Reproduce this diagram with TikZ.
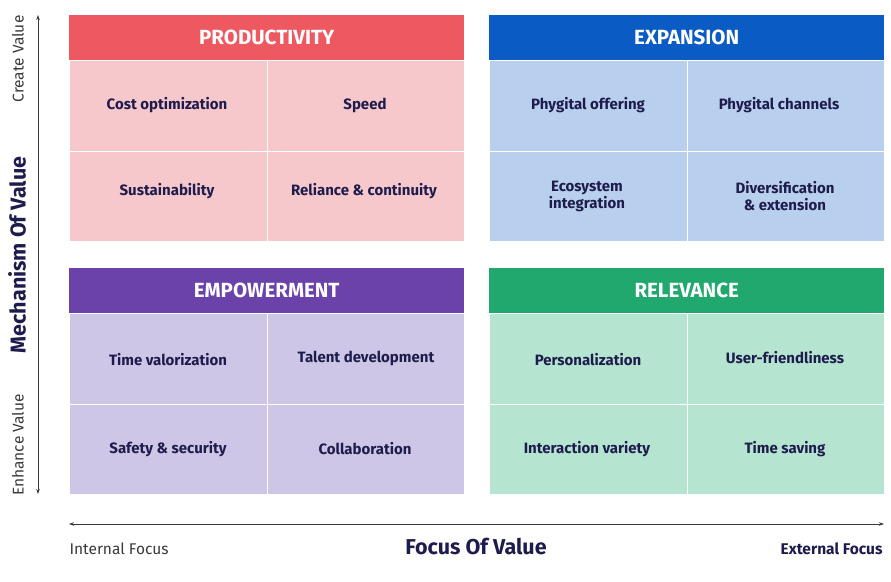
\documentclass[tikz,border=0pt]{standalone}
\usepackage{fontspec}
\setmainfont{Fira Sans}
\usetikzlibrary{arrows.meta}
\definecolor{prodH}{HTML}{EE5860}
\definecolor{prodC}{HTML}{F6C8CC}
\definecolor{expH}{HTML}{0A5CC4}
\definecolor{expC}{HTML}{B8D0EE}
\definecolor{empH}{HTML}{6A42AA}
\definecolor{empC}{HTML}{CEC6E6}
\definecolor{relH}{HTML}{20A86E}
\definecolor{relC}{HTML}{B5E4D1}
\definecolor{navy}{HTML}{1E1C4C}
\definecolor{axis}{HTML}{3A3A3A}
\tikzset{
  hdr/.style={anchor=north west, minimum width=395pt, minimum height=45pt, inner sep=0pt,
    text=white, font=\fontsize{20.5}{22}\selectfont\bfseries},
  cell/.style={anchor=north west, draw=white, line width=0.8pt, inner sep=0pt,
    minimum width=197.5pt, minimum height=90.5pt},
  ctext/.style={text=navy, align=center, font=\fontsize{15}{17}\selectfont\bfseries},
  small/.style={text=axis, font=\fontsize{15.5}{17}\selectfont},
  ax/.style={draw=axis, line width=0.7pt, {Stealth[length=5pt,width=3.5pt]}-{Stealth[length=5pt,width=3.5pt]}},
}
\begin{document}
\begin{tikzpicture}[x=1pt,y=-1pt]
\useasboundingbox[fill=white] (0,0) rectangle (891,581);
% PRODUCTIVITY
\node[hdr, fill=prodH] (ph) at (69,15) {PRODUCTIVITY};
\node[cell, fill=prodC] (p1) at (69,60) {};
\node[cell, fill=prodC] (p2) at (266.5,60) {};
\node[cell, fill=prodC] (p3) at (69,150.5) {};
\node[cell, fill=prodC] (p4) at (266.5,150.5) {};
\node[ctext] at (167,105) {Cost optimization};
\node[ctext] at (365,105) {Speed};
\node[ctext] at (167,191) {Sustainability};
\node[ctext] at (364,191) {Reliance \& continuity};
% EXPANSION
\node[hdr, fill=expH] (eh) at (489,15) {EXPANSION};
\node[cell, fill=expC] (e1) at (489,60) {};
\node[cell, fill=expC] (e2) at (686.5,60) {};
\node[cell, fill=expC] (e3) at (489,150.5) {};
\node[cell, fill=expC] (e4) at (686.5,150.5) {};
\node[ctext] at (588,105) {Phygital offering};
\node[ctext] at (779,105) {Phygital channels};
\node[ctext] at (587,196) {Ecosystem\\integration};
\node[ctext] at (785,196) {Diversification\\\& extension};
% EMPOWERMENT
\node[hdr, fill=empH] (mh) at (69,268) {EMPOWERMENT};
\node[cell, fill=empC] (m1) at (69,313) {};
\node[cell, fill=empC] (m2) at (266.5,313) {};
\node[cell, fill=empC] (m3) at (69,403.5) {};
\node[cell, fill=empC] (m4) at (266.5,403.5) {};
\node[ctext] at (168,360) {Time valorization};
\node[ctext] at (366,358) {Talent development};
\node[ctext] at (168,449) {Safety \& security};
\node[ctext] at (365,449) {Collaboration};
% RELEVANCE
\node[hdr, fill=relH] (rh) at (489,268) {RELEVANCE};
\node[cell, fill=relC] (r1) at (489,313) {};
\node[cell, fill=relC] (r2) at (686.5,313) {};
\node[cell, fill=relC] (r3) at (489,403.5) {};
\node[cell, fill=relC] (r4) at (686.5,403.5) {};
\node[ctext] at (588,360) {Personalization};
\node[ctext] at (785,358) {User-friendliness};
\node[ctext] at (587,449) {Interaction variety};
\node[ctext] at (785,449) {Time saving};
% vertical axis
\coordinate (vt) at (38,15);
\coordinate (vb) at (38,494);
\draw[ax] (vb) -- (vt);
\node[small, rotate=90] (cv) at (18,59) {Create Value};
\node[small, rotate=90] (ev) at (18,445) {Enhance Value};
\node[rotate=90, text=navy, font=\fontsize{21.5}{23}\selectfont\bfseries] (mv) at (17,255) {Mechanism Of Value};
% horizontal axis
\coordinate (hl) at (69,524);
\coordinate (hr) at (884,524);
\draw[ax] (hl) -- (hr);
\node[small, anchor=west] (if) at (66,549) {Internal Focus};
\node[anchor=east, text=navy, font=\fontsize{15.5}{17}\selectfont\bfseries] (ef) at (886,549) {External Focus};
\node[text=navy, font=\fontsize{21.5}{23}\selectfont\bfseries] (fv) at (476,547) {Focus Of Value};
\end{tikzpicture}
\end{document}
